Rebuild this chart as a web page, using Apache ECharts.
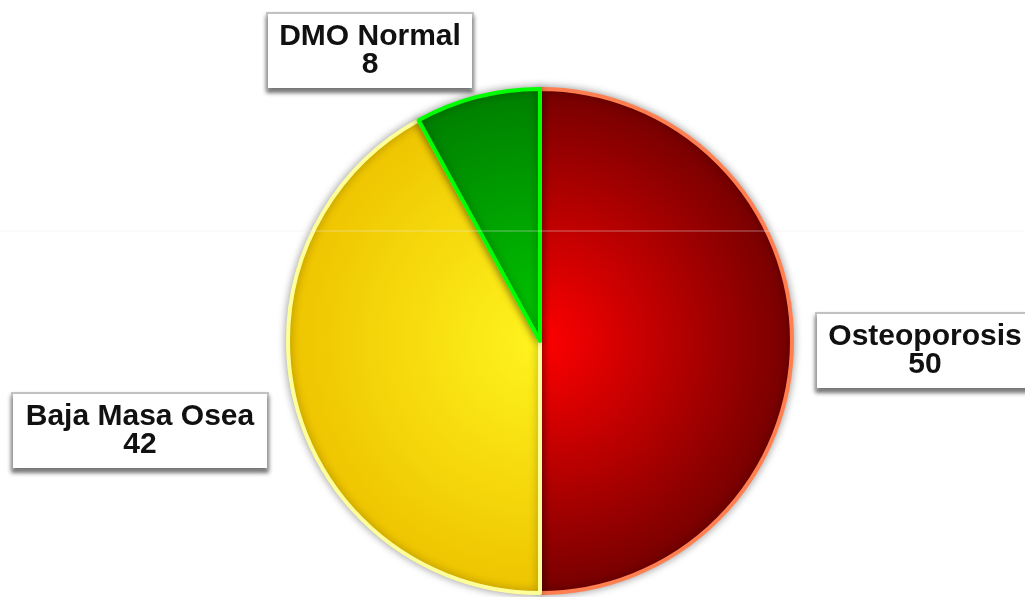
<!DOCTYPE html>
<html>
<head>
<meta charset="utf-8">
<script src="https://cdn.jsdelivr.net/npm/echarts@6/dist/echarts.min.js"></script>
<style>
  html, body { margin: 0; padding: 0; background: #fff; }
  #chart { width: 1025px; height: 597px; }
</style>
</head>
<body>
<div id="chart"></div>
<script>
    const categories = ['Osteoporosis', 'Baja Masa Osea', 'DMO Normal']
    const values = [50, 42, 8]

    // colores: centro, borde exterior, contorno
    const innerColors = ['#ff0000', '#fff41e', '#00c800']
    const outerColors = ['#760000', '#eec400', '#007f00']
    const edgeColors = ['#ff7f50', '#ffff99', '#00ff00']

    // posicion de cada etiqueta (centro de la caja) y ancho del texto
    const labelPos = [[925, 351], [140, 431], [370, 51]]
    const labelWidth = [198, 236, 186]

    const cx = 540, cy = 341, R = 252

    const myChart = echarts.init(document.getElementById('chart'))

    const data = categories.map((name, i) => {
        return {
            name: name,
            value: values[i],
            itemStyle: {
                color: {
                    type: 'radial', x: cx, y: cy, r: R, global: true,
                    colorStops: [
                        { offset: 0, color: innerColors[i] },
                        { offset: 1, color: outerColors[i] }
                    ]
                },
                borderColor: edgeColors[i]
            }
        }
    })

    const option = {
        backgroundColor: '#ffffff',
        animation: false,
        series: [{
            type: 'pie',
            center: [cx, cy],
            radius: R,
            startAngle: 90,
            clockwise: true,
            data: data,
            itemStyle: {
                borderWidth: 4,
                shadowBlur: 8,
                shadowColor: 'rgba(0,0,0,0.35)'
            },
            emphasis: { disabled: true },
            labelLine: { show: false },
            label: {
                show: true,
                position: 'outside',
                overflow: 'none',
                formatter: '{b}\n{c}',
                fontFamily: 'Liberation Sans, Arial, sans-serif',
                fontWeight: 'bold',
                fontSize: 30,
                lineHeight: 28,
                color: '#111',
                align: 'center',
                backgroundColor: '#fff',
                borderColor: '#c4c4c4',
                borderWidth: 2,
                padding: [9, 9, 9, 9],
                shadowColor: 'rgba(0,0,0,0.45)',
                shadowBlur: 4,
                shadowOffsetX: 0,
                shadowOffsetY: 3
            },
            labelLayout: (params) => {
                const i = params.dataIndex
                return {
                    x: labelPos[i][0],
                    y: labelPos[i][1],
                    width: labelWidth[i],
                    align: 'center',
                    verticalAlign: 'middle'
                }
            }
        }],
        graphic: [{
            type: 'line',
            z: 100,
            shape: { x1: 0, y1: 231, x2: 1025, y2: 231 },
            style: { stroke: '#eeeeee', lineWidth: 1, opacity: 0.45 }
        }]
    }

    myChart.setOption(option)
</script>
</body>
</html>
